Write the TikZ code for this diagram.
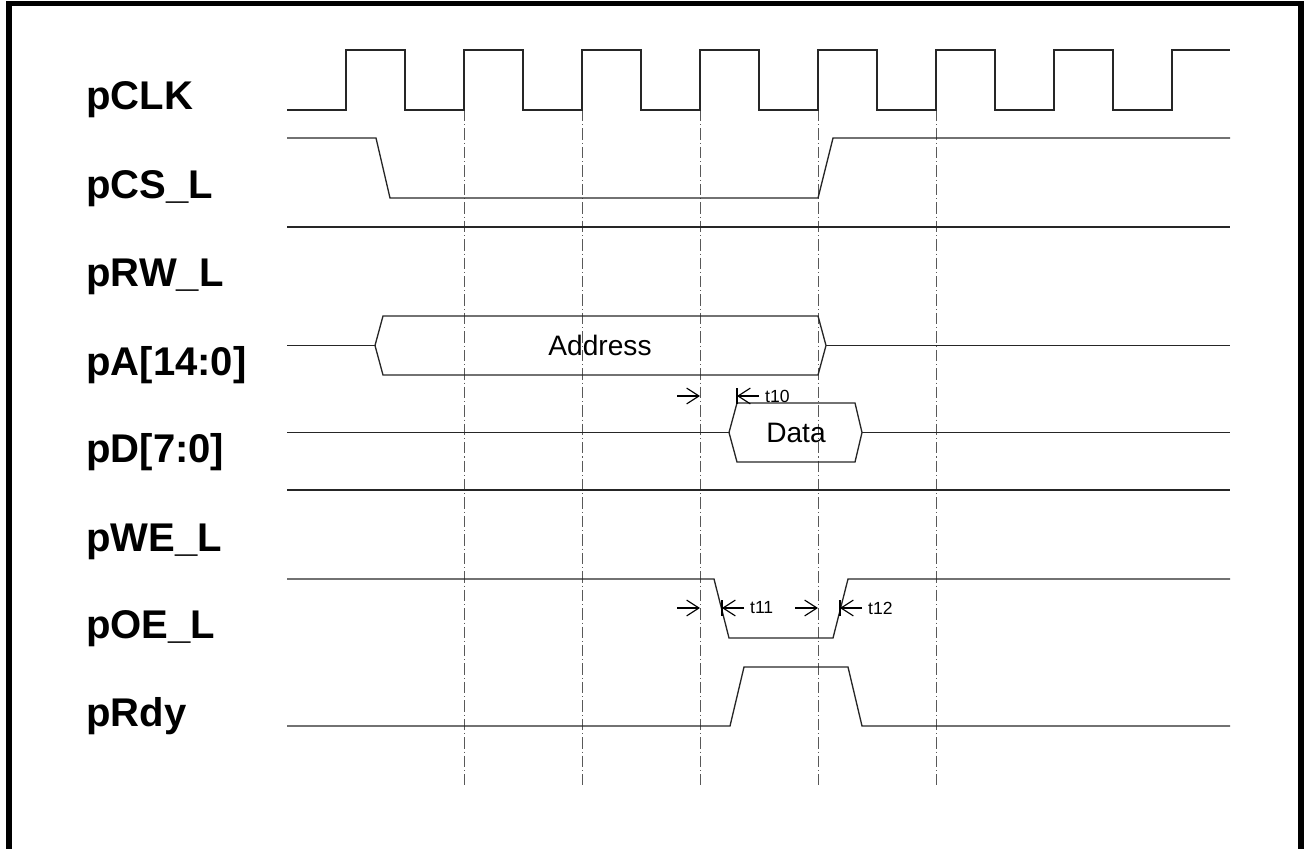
\documentclass[tikz,border=0pt]{standalone}
\usepackage{fontspec}
\setmainfont{Liberation Sans}
\usetikzlibrary{positioning, arrows.meta}

\begin{document}
\begin{tikzpicture}[
    x=0.02cm, y=-0.02cm,
    signal/.style={line width=0.75pt, black!85},
    gridline/.style={line width=0.55pt, black!65, dash pattern=on 6.5pt off 1.7pt on 0.6pt off 1.7pt},
    frame/.style={line width=3.4pt, black},
    siglabel/.style={anchor=base west, inner sep=0pt, font=\fontsize{22.8}{27}\selectfont\bfseries},
    bustext/.style={inner sep=0pt, font=\fontsize{16}{19}\selectfont},
    timetext/.style={anchor=west, inner sep=1pt, font=\fontsize{10}{12}\selectfont},
    arrow/.style={-{Straight Barb[length=7pt, width=9pt]}, line width=0.65pt},
    tickbar/.style={line width=0.9pt}
]

% Parameters (in pixels of the original drawing)
\newcommand{\SigStart}{287}
\newcommand{\SigEnd}{1230}
\newcommand{\ClkPer}{118}
\newcommand{\ClkHalf}{59}
\newcommand{\ClkFirst}{346}
\newcommand{\GridTop}{110}
\newcommand{\GridBot}{785}

\useasboundingbox (0,0) rectangle (1304,848);
\clip (0,0) rectangle (1304,848);

% Outer frame (open at the bottom)
\draw[frame] (9,870) -- (9,3.5) -- (1301,3.5) -- (1301,870);

% Signal names, baseline on the low level of each row
\foreach \name/\yb [count=\i] in {pCLK/110, pCS\_L/198, pRW\_L/286, pA[14:0]/375,
        pD[7:0]/462, pWE\_L/551, pOE\_L/638, pRdy/726}{
    \node[siglabel] (lab-\i) at (86,\yb) {\name};
}

% Clock edges used as references
\foreach \x [count=\i] in {464,582,...,936}{
    \draw[gridline] (\x,\GridTop) -- (\x,\GridBot);
    \coordinate (edge-\i) at (\x,0);
}

% pCLK
\draw[signal] (\SigStart,110)
    \foreach \k in {0,...,6}{
        -- ({\ClkFirst+\ClkPer*\k},110) -- ({\ClkFirst+\ClkPer*\k},50)
        -- ({\ClkFirst+\ClkPer*\k+\ClkHalf},50) -- ({\ClkFirst+\ClkPer*\k+\ClkHalf},110)
    }
    -- (1172,110) -- (1172,50) -- (\SigEnd,50);

% pCS_L
\draw[signal] (\SigStart,138) -- (376,138) -- (390,198) -- (818,198) -- (833,138) -- (\SigEnd,138);

% pRW_L
\draw[signal] (\SigStart,227) -- (\SigEnd,227);

% pA[14:0]
\draw[signal] (\SigStart,345.5) -- (375,345.5);
\draw[signal] (375,345.5) -- (383,316) -- (818,316) -- (826,345.5) -- (818,375) -- (383,375) -- cycle;
\draw[signal] (826,345.5) -- (\SigEnd,345.5);
\node[bustext] (addr) at (600,345.5) {Address};

% pD[7:0]
\draw[signal] (\SigStart,432.5) -- (729,432.5);
\draw[signal] (729,432.5) -- (737,403) -- (855,403) -- (862,432.5) -- (855,462) -- (737,462) -- cycle;
\draw[signal] (862,432.5) -- (\SigEnd,432.5);
\node[bustext] (data) at (796,432.5) {Data};

% pWE_L
\draw[signal] (\SigStart,490) -- (\SigEnd,490);

% pOE_L
\draw[signal] (\SigStart,579) -- (714,579) -- (729,638) -- (833,638) -- (848,579) -- (\SigEnd,579);

% pRdy
\draw[signal] (\SigStart,726) -- (730,726) -- (744,667) -- (848,667) -- (862,726) -- (\SigEnd,726);

% Timing marks
\foreach \tn/\xa/\xb/\ty in {t10/700/737/396, t11/700/722/608, t12/818/840/608}{
    \coordinate (\tn-a) at (\xa,\ty);
    \coordinate (\tn-b) at (\xb,\ty);
    \draw[arrow] ([xshift=-23*0.02cm]\tn-a) -- (\tn-a);
    \draw[arrow] ([xshift=22*0.02cm]\tn-b) -- (\tn-b);
    \draw[tickbar] ([yshift=8*0.02cm]\tn-b) -- ([yshift=-8*0.02cm]\tn-b);
    \node[timetext] (\tn) at ([xshift=26*0.02cm]\tn-b) {\tn};
}

\end{tikzpicture}
\end{document}
